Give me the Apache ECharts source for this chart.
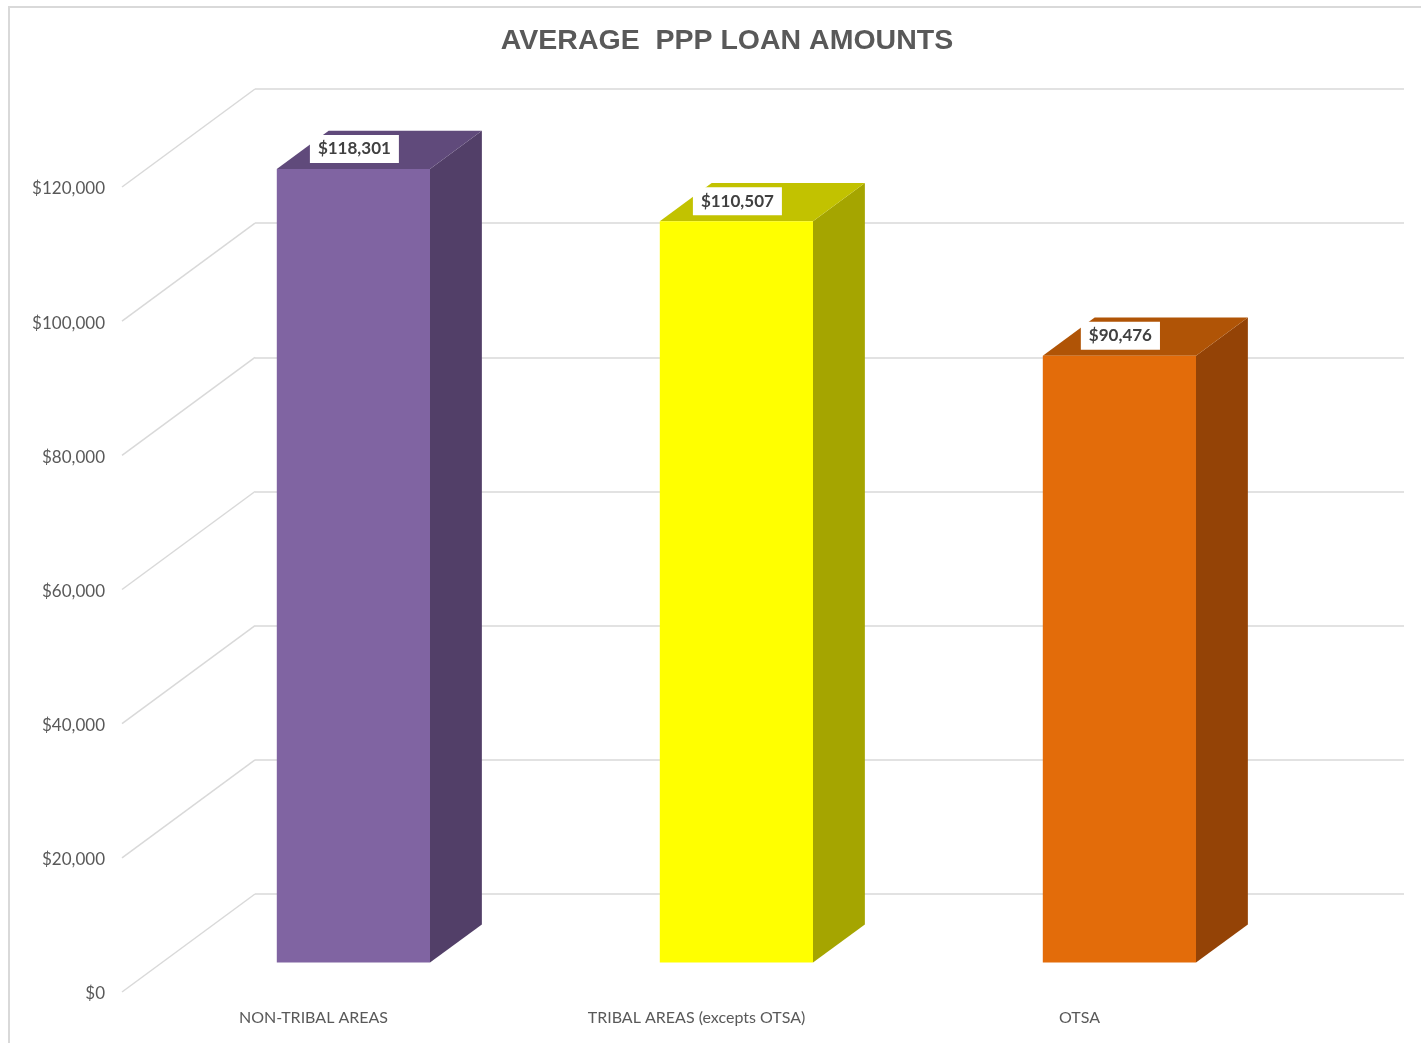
<!DOCTYPE html>
<html>
<head>
<meta charset="utf-8">
<script src="https://cdn.jsdelivr.net/npm/echarts@6/dist/echarts.min.js"></script>
<style>
html,body{margin:0;padding:0;background:#fff;}
#chart{width:1421px;height:1043px;}
</style>
</head>
<body>
<div id="chart"></div>
<script>
// ---- data ----
const categories = ['NON-TRIBAL AREAS', 'TRIBAL AREAS (excepts OTSA)', 'OTSA'];
const values = [118301, 110507, 90476];
const yTicks = [0, 20000, 40000, 60000, 80000, 100000, 120000];
const frontColors = ['#8064A2', '#FFFF00', '#E36C0A'];
const topColors = ['#604A7B', '#C2C200', '#B05406'];
const sideColors = ['#523F68', '#A5A500', '#944306'];

// ---- layout ----
const FRONT_LEFT = 122, FRONT_TOP = 187, PLOT_W = 1149, PLOT_H = 805;
const DEPTH_DX = 133, DEPTH_DY = -98;   // offset from front plane to back wall
const BAR_D0 = 0.30, BAR_D1 = 0.69;     // bar depth range (fraction)
const BAR_W = 0.4;                       // bar width as fraction of band

const chart = echarts.init(document.getElementById('chart'));

const fmt = v => '$' + v.toLocaleString('en-US');

const option = {
  backgroundColor: '#fff',
  animation: false,
  title: {
    text: 'AVERAGE  PPP LOAN AMOUNTS',
    left: 722, top: 36, textAlign: 'center', textVerticalAlign: 'middle',
    textStyle: { fontFamily: 'Liberation Sans', fontWeight: 'bold', fontSize: 28.5, color: '#595959' }
  },
  graphic: [{
    type: 'rect', silent: true, z: -10,
    shape: { x: 9, y: 7, width: 1440, height: 1060 },
    style: { fill: 'none', stroke: '#d9d9d9', lineWidth: 2 }
  }],
  grid: [
    { left: FRONT_LEFT, top: FRONT_TOP, width: PLOT_W, height: PLOT_H },
    { left: FRONT_LEFT + DEPTH_DX, top: FRONT_TOP + DEPTH_DY, width: PLOT_W, height: PLOT_H }
  ],
  xAxis: [
    {
      gridIndex: 0, type: 'category', data: categories,
      axisLine: { show: false }, axisTick: { show: false },
      axisLabel: { margin: 18, fontFamily: 'Lato', fontSize: 16, color: '#595959', interval: 0 }
    },
    { gridIndex: 1, type: 'category', data: categories, show: false }
  ],
  yAxis: [
    {
      gridIndex: 0, type: 'value', min: 0, max: 120000, interval: 20000,
      axisLine: { show: false }, axisTick: { show: false }, splitLine: { show: false },
      axisLabel: { margin: 17, color: '#595959',
        formatter: v => '{a|' + fmt(v) + '}',
        rich: { a: { fontFamily: 'Lato', fontSize: 17, color: '#595959', padding: [4, 0, 0, 0] } } }
    },
    {
      gridIndex: 1, type: 'value', min: 0, max: 120000, interval: 20000,
      axisLine: { show: false }, axisTick: { show: false }, axisLabel: { show: false },
      splitLine: { show: true, lineStyle: { color: '#d9d9d9', width: 1.5 } }
    }
  ],
  series: [
    {
      type: 'custom', xAxisIndex: 0, yAxisIndex: 0, silent: true, z: 1,
      data: yTicks.map(v => [0, v]),
      renderItem: (params, api) => {
        const p = api.coord([0, api.value(1)]);
        const x0 = params.coordSys.x;
        return {
          type: 'line',
          shape: { x1: x0, y1: p[1], x2: x0 + DEPTH_DX, y2: p[1] + DEPTH_DY },
          style: { stroke: '#d9d9d9', lineWidth: 1.5 }
        };
      }
    },
    {
      type: 'custom', xAxisIndex: 0, yAxisIndex: 0, z: 5,
      data: values.map((v, i) => [i, v]),
      renderItem: (params, api) => {
        const i = api.value(0), v = api.value(1);
        const top = api.coord([i, v]);
        const base = api.coord([i, 0]);
        const hw = api.size([1, 0])[0] * BAR_W / 2;
        const fx = DEPTH_DX * BAR_D0, fy = DEPTH_DY * BAR_D0;
        const ddx = DEPTH_DX * (BAR_D1 - BAR_D0), ddy = DEPTH_DY * (BAR_D1 - BAR_D0);
        const L = top[0] - hw + fx, R = top[0] + hw + fx;
        const T = top[1] + fy, B = base[1] + fy;
        return {
          type: 'group',
          children: [
            { type: 'polygon', shape: { points: [[R, T], [R + ddx, T + ddy], [R + ddx, B + ddy], [R, B]] },
              style: { fill: sideColors[i] } },
            { type: 'polygon', shape: { points: [[L, T], [L + ddx, T + ddy], [R + ddx, T + ddy], [R, T]] },
              style: { fill: topColors[i] } },
            { type: 'rect', shape: { x: L, y: T, width: R - L, height: B - T },
              style: { fill: frontColors[i] } },
            { type: 'text', z2: 10,
              style: {
                text: fmt(v), x: top[0] + fx + 1, y: T - 20, align: 'center', verticalAlign: 'middle',
                fontFamily: 'Lato', fontWeight: 'bold', fontSize: 17, fill: '#404040',
                backgroundColor: '#ffffff', padding: [6, 8, 5, 8]
              } }
          ]
        };
      }
    }
  ]
};
chart.setOption(option);
</script>
</body>
</html>
